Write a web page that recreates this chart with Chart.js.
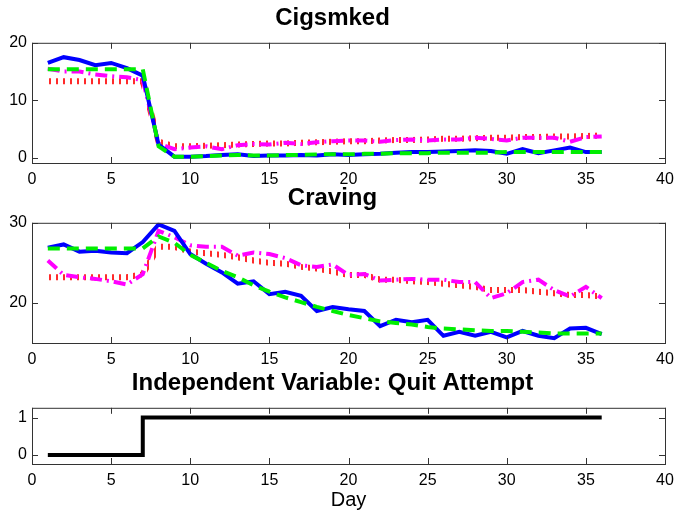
<!DOCTYPE html>
<html>
<head>
<meta charset="utf-8">
<script src="https://cdn.jsdelivr.net/npm/chart.js@4"></script>
<style>
  body { margin: 0; background: #fff; }
  #wrap { position: relative; width: 685px; height: 522px; }
  canvas { position: absolute; left: 0; }
</style>
</head>
<body>
<div id="wrap">
  <canvas id="cigChart" width="685" height="200" style="top:0px"></canvas>
  <canvas id="cravChart" width="685" height="200" style="top:180px"></canvas>
  <canvas id="quitChart" width="685" height="157" style="top:365px"></canvas>
</div>
<script>
// ---- data ----
const days = [1, 2, 3, 4, 5, 6, 7, 8, 9, 10, 11, 12, 13, 14, 15, 16, 17, 18,
    19, 20, 21, 22, 23, 24, 25, 26, 27, 28, 29, 30, 31, 32, 33, 34, 35, 36];

const xTicks = [0, 5, 10, 15, 20, 25, 30, 35, 40];
const cigTicks = [0, 10, 20];
const cravTicks = [20, 30];
const quitTicks = [0, 1];

const cigObserved = [16.5, 17.5, 17.0, 16.1, 16.5, 15.6, 14.3, 2.3, 0.2, 0.2, 0.3, 0.5, 0.6, 0.3, 0.4, 0.4, 0.5, 0.4,
    0.6, 0.5, 0.6, 0.7, 0.9, 1.0, 1.0, 1.1, 1.2, 1.3, 1.2, 0.7, 1.5, 0.8, 1.3, 1.8, 1.0, 1.0];
const cigFitted = [15.4, 15.4, 15.4, 15.4, 15.4, 15.4, 15.4, 2.0, 0.2, 0.2, 0.3, 0.4, 0.5, 0.4, 0.4, 0.5, 0.5, 0.6,
    0.6, 0.6, 0.7, 0.7, 0.8, 0.8, 0.8, 0.9, 0.9, 0.9, 0.9, 1.0, 1.0, 1.0, 1.0, 1.0, 1.0, 1.0];
const cigDashDot = [15.5, 15.0, 15.0, 14.5, 14.2, 14.0, 13.5, 2.5, 1.5, 1.8, 2.0, 1.5, 2.2, 2.4, 2.3, 2.6, 2.4, 2.7,
    2.9, 3.0, 3.0, 2.8, 3.1, 3.2, 3.0, 3.2, 3.2, 3.5, 3.3, 3.0, 3.5, 3.5, 3.5, 2.8, 3.6, 3.7];
const cigDotted = [13.3, 13.3, 13.3, 13.3, 13.3, 13.3, 13.3, 2.8, 2.0, 2.0, 2.1, 2.2, 2.3, 2.4, 2.5, 2.5, 2.6, 2.7,
    2.8, 2.9, 2.9, 3.0, 3.1, 3.1, 3.2, 3.3, 3.3, 3.4, 3.5, 3.5, 3.6, 3.6, 3.7, 3.7, 3.8, 3.9];

const cravObserved = [26.9, 27.3, 26.4, 26.5, 26.3, 26.2, 27.6, 29.8, 29.0, 26.1, 24.9, 23.8, 22.4, 22.7, 21.1, 21.4, 20.9, 19.0,
    19.5, 19.2, 19.0, 17.1, 17.9, 17.6, 17.9, 15.9, 16.4, 15.9, 16.4, 15.7, 16.5, 15.9, 15.6, 16.8, 16.9, 16.1];
const cravFitted = [26.8, 26.8, 26.8, 26.8, 26.8, 26.8, 26.8, 28.3, 27.5, 26.0, 25.0, 24.0, 23.2, 22.2, 21.4, 20.7, 20.1, 19.5,
    19.0, 18.5, 18.1, 17.7, 17.5, 17.3, 17.0, 16.8, 16.7, 16.6, 16.5, 16.5, 16.4, 16.3, 16.2, 16.2, 16.2, 16.2];
const cravDashDot = [25.3, 23.5, 23.2, 23.0, 22.7, 22.3, 23.6, 29.0, 28.2, 27.2, 27.0, 27.0, 25.9, 26.3, 26.1, 25.6, 24.7, 24.5,
    24.8, 23.5, 23.6, 22.8, 22.9, 23.0, 22.9, 22.9, 22.6, 22.6, 20.6, 21.2, 22.6, 22.9, 21.6, 20.8, 22.0, 20.6];
const cravDotted = [23.2, 23.2, 23.2, 23.2, 23.2, 23.2, 23.6, 27.0, 27.0, 26.4, 26.2, 26.0, 25.7, 25.3, 25.0, 24.9, 24.5, 24.3,
    23.9, 23.5, 23.5, 22.9, 22.9, 22.7, 22.6, 22.4, 22.2, 22.0, 21.6, 21.6, 21.6, 21.4, 21.2, 21.0, 21.0, 20.8];

const quitAttempt = [0, 0, 0, 0, 0, 0, 1, 1, 1, 1, 1, 1, 1, 1, 1, 1, 1, 1,
    1, 1, 1, 1, 1, 1, 1, 1, 1, 1, 1, 1, 1, 1, 1, 1, 1, 1];

// ---- helpers ----
const FONT = '"Liberation Sans", Arial, Helvetica, sans-serif';
Chart.defaults.font.family = FONT;
Chart.defaults.color = '#000';

const toPoints = (vals) => vals.map((v, i) => ({ x: days[i], y: v }));

function hatchPattern(canvas) {
    const tile = document.createElement('canvas');
    tile.width = 7;
    tile.height = 8;
    const t = tile.getContext('2d');
    t.fillStyle = '#ff2a2a';
    t.fillRect(0, 0, 2, 8);
    return canvas.getContext('2d').createPattern(tile, 'repeat');
}

// MATLAB-like box with inward ticks on all sides
const boxPlugin = {
    id: 'boxTicks',
    afterDraw(chart) {
        const { ctx, chartArea: a, scales } = chart;
        ctx.save();
        ctx.strokeStyle = '#333';
        ctx.lineWidth = 1;
        ctx.strokeRect(a.left + 0.5, a.top + 0.5, a.right - a.left, a.bottom - a.top);
        ctx.beginPath();
        scales.x.ticks.forEach(t => {
            const px = Math.round(scales.x.getPixelForValue(t.value)) + 0.5;
            ctx.moveTo(px, a.bottom); ctx.lineTo(px, a.bottom - 6);
            ctx.moveTo(px, a.top); ctx.lineTo(px, a.top + 6);
        });
        scales.y.ticks.forEach(t => {
            const py = Math.round(scales.y.getPixelForValue(t.value)) + 0.5;
            ctx.moveTo(a.left, py); ctx.lineTo(a.left + 6, py);
            ctx.moveTo(a.right, py); ctx.lineTo(a.right - 6, py);
        });
        ctx.stroke();
        ctx.restore();
    }
};

function makeOptions(title, yMin, yMax, yTicks, bottomPad, xTitle) {
    return {
        responsive: false,
        animation: false,
        events: [],
        layout: { padding: { left: 0, right: 20, top: 0, bottom: bottomPad } },
        plugins: {
            legend: { display: false },
            tooltip: { enabled: false },
            title: {
                display: true,
                text: title,
                font: { size: 24, weight: 'bold', family: FONT },
                color: '#000',
                padding: { top: 4, bottom: 10 }
            }
        },
        elements: { point: { radius: 0 }, line: { tension: 0 } },
        scales: {
            x: {
                type: 'linear',
                min: 0,
                max: 40,
                afterBuildTicks: s => { s.ticks = xTicks.map(v => ({ value: v })); },
                afterFit: s => { s.height = xTitle ? 48 : 30; },
                grid: { display: false, drawTicks: false },
                border: { display: false },
                ticks: { padding: 7, font: { size: 16 }, maxRotation: 0 },
                title: {
                    display: !!xTitle,
                    text: xTitle || '',
                    font: { size: 20 },
                    padding: { top: 0, bottom: 0 }
                }
            },
            y: {
                min: yMin,
                max: yMax,
                afterBuildTicks: s => { s.ticks = yTicks.map(v => ({ value: v })); },
                afterFit: s => { s.width = 32; },
                grid: { display: false, drawTicks: false },
                border: { display: false },
                ticks: { padding: 5, font: { size: 16 } }
            }
        }
    };
}

function fourLines(canvas, fitted, observed, dashDot, dotted) {
    return [
        { data: toPoints(fitted), borderColor: '#00ee00', borderWidth: 4, borderDash: [12, 7] },
        { data: toPoints(observed), borderColor: '#0000ff', borderWidth: 4 },
        { data: toPoints(dashDot), borderColor: '#ff00ff', borderWidth: 4, borderDash: [12, 5, 2, 5] },
        { data: toPoints(dotted), borderColor: hatchPattern(canvas), borderWidth: 6 }
    ];
}

const cigCanvas = document.getElementById('cigChart');
new Chart(cigCanvas, {
    type: 'line',
    data: { datasets: fourLines(cigCanvas, cigFitted, cigObserved, cigDashDot, cigDotted) },
    options: makeOptions('Cigsmked', -0.9, 20, cigTicks, 7),
    plugins: [boxPlugin]
});

const cravCanvas = document.getElementById('cravChart');
new Chart(cravCanvas, {
    type: 'line',
    data: { datasets: fourLines(cravCanvas, cravFitted, cravObserved, cravDashDot, cravDotted) },
    options: makeOptions('Craving', 15, 30, cravTicks, 7),
    plugins: [boxPlugin]
});

const quitCanvas = document.getElementById('quitChart');
new Chart(quitCanvas, {
    type: 'line',
    data: {
        datasets: [{
            data: toPoints(quitAttempt),
            borderColor: '#000',
            borderWidth: 4,
            stepped: true
        }]
    },
    options: makeOptions('Independent Variable: Quit Attempt', -0.24, 1.26, quitTicks, 10, 'Day'),
    plugins: [boxPlugin]
});
</script>
</body>
</html>
